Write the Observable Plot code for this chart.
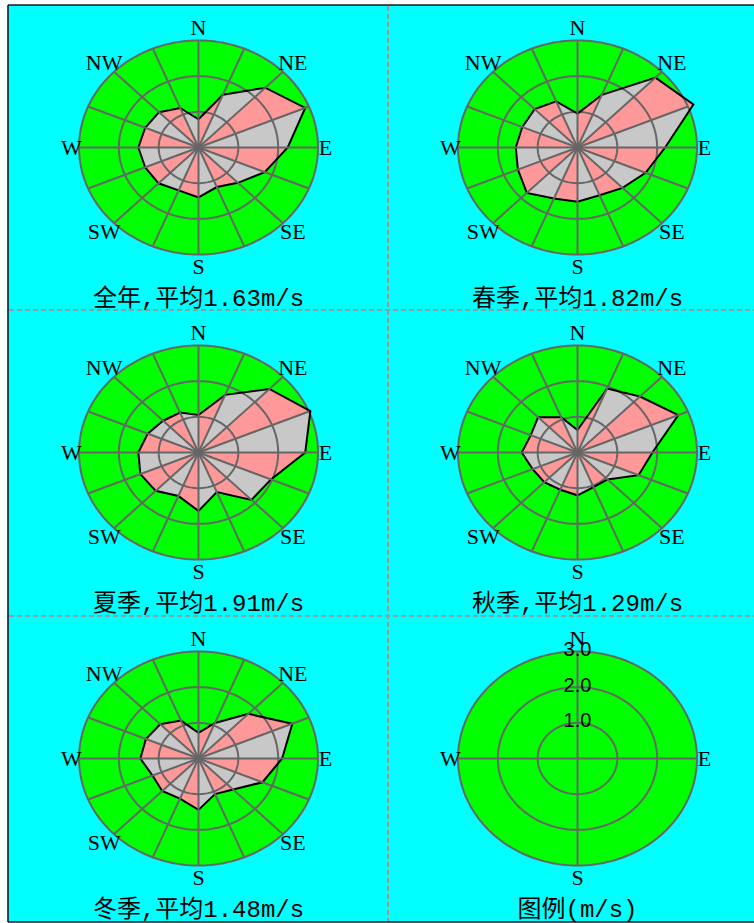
<!DOCTYPE html>
<html><head><meta charset="utf-8">
<script src="https://cdn.jsdelivr.net/npm/d3@7"></script>
<script src="https://cdn.jsdelivr.net/npm/@observablehq/plot@0.6"></script>
<style>
html,body{margin:0;padding:0;background:#fff;overflow:hidden;}
#fig{position:relative;width:754px;height:923px;overflow:hidden;}
#fig > svg{position:absolute;left:0;top:0;}
#fig > .panel{position:absolute;}
#fig > .panel svg{display:block;max-width:none;}
</style></head><body><div id="fig"></div>
<script>
// ---- data ----
const directions = ["N","NNE","NE","ENE","E","ESE","SE","SSE","S","SSW","SW","WSW","W","WNW","NW","NNW"];
const annual = [0.79,1.60,2.37,2.90,2.24,1.80,1.40,1.20,1.40,1.30,1.42,1.45,1.51,1.45,1.40,1.20];
const spring = [0.95,1.60,2.77,3.15,2.20,1.85,1.60,1.45,1.52,1.55,1.80,1.62,1.55,1.50,1.52,1.40];
const summer = [1.05,1.75,2.52,3.04,2.68,1.97,1.88,1.20,1.64,1.32,1.52,1.58,1.51,1.38,1.26,1.21];
const autumn = [0.63,1.94,2.22,2.74,1.88,1.66,1.07,1.05,1.20,1.13,1.18,1.22,1.40,1.27,1.40,1.07];
const winter = [0.72,1.08,1.77,2.55,2.10,1.74,1.23,1.08,1.44,1.22,1.29,1.25,1.46,1.43,1.36,1.15];
const seasonNames = ["全年","春季","夏季","秋季","冬季"];
const seasonMeans = [1.63,1.82,1.91,1.29,1.48];
const legendTitle = "图例(m/s)";
const compassLabels = ["N","NE","E","SE","S","SW","W","NW"];
const legendCompass = ["N","E","S","W"];
const ringValues = [1,2,3];
const ringLabels = ["1.0","2.0","3.0"];

// ---- layout ----
const PX = 39.83, PY = 35.667;   // pixels per m/s (horizontal, vertical)
const W = 380, H = 306, CX = 189, CY = 141;
const rad = i => i * Math.PI / 8;

function panel(values, caption, isLegend) {
  const ring = r => d3.range(0, 360, 2).map(a => ({r, x: r*Math.sin(a*Math.PI/180), y: r*Math.cos(a*Math.PI/180)}));
  const rings = ringValues.flatMap(ring);
  const spokeDirs = isLegend ? [0,4,8,12] : d3.range(16);
  const spokes = spokeDirs.map(i => ({x1:0, y1:0, x2:3*Math.sin(rad(i)), y2:3*Math.cos(rad(i))}));
  const labels = (isLegend ? legendCompass : compassLabels).map(name => {
    const i = directions.indexOf(name);
    const r = i % 8 === 0 ? 3.36 : i % 4 === 0 ? 3.19 : 3.35;
    return {name, x: r*Math.sin(rad(i)), y: r*Math.cos(rad(i))};
  });
  const marks = [Plot.line(ring(3), {x:"x", y:"y", fill:"#00ff00", stroke:"none", curve:"linear-closed"})];
  let pts = null;
  if (values) {
    pts = values.map((v,i) => ({i, x: v*Math.sin(rad(i)), y: v*Math.cos(rad(i))}));
    const tris = pts.filter(p => p.i % 2 === 0).flatMap(p => {
      const q = pts[(p.i+1) % 16];
      return [{k:p.i, x:0, y:0}, {k:p.i, x:p.x, y:p.y}, {k:p.i, x:q.x, y:q.y}];
    });
    marks.push(
      Plot.line(pts, {x:"x", y:"y", fill:"#c8c8c8", stroke:"none", curve:"linear-closed"}),
      Plot.line(tris, {x:"x", y:"y", z:"k", fill:"#ff9999", stroke:"#ff9999", strokeWidth:0.5, curve:"linear-closed"})
    );
  }
  marks.push(Plot.line(rings, {x:"x", y:"y", z:"r", stroke:"#666666", strokeWidth:2, curve:"linear-closed"}));
  if (pts) marks.push(Plot.line(pts, {x:"x", y:"y", stroke:"#000", strokeWidth:2, strokeLinejoin:"miter", strokeMiterlimit:4, curve:"linear-closed"}));
  marks.push(Plot.link(spokes, {x1:"x1", y1:"y1", x2:"x2", y2:"y2", stroke:"#666666", strokeWidth:2}));
  marks.push(Plot.text(labels, {x:"x", y:"y", text:"name", fontSize:22, fontFamily:"'Liberation Serif', serif", lineAnchor:"middle", fill:"#000"}));
  if (isLegend) {
    marks.push(Plot.text(ringValues.map((r,j) => ({x:0, y:r, t:ringLabels[j]})),
      {x:"x", y:"y", text:"t", fontSize:20, fontFamily:"'Liberation Sans', sans-serif", lineAnchor:"middle", dy:-2, fill:"#000"}));
  }
  marks.push(Plot.text([{x:0, y:-4.24, t:caption}], {x:"x", y:"y", text:"t", fontSize:24,
    fontFamily:"'Liberation Mono', 'Noto Sans CJK SC', monospace", lineAnchor:"middle", fill:"#000"}));
  return Plot.plot({
    width: W, height: H, margin: 0,
    x: {domain: [-CX/PX, (W-CX)/PX], axis: null},
    y: {domain: [-(H-CY)/PY, CY/PY], axis: null},
    style: {background: "none", overflow: "visible"},
    marks
  });
}

const fig = document.getElementById("fig");
// background, frame and dashed dividers
const bg = d3.select(fig).append("svg").attr("width", 754).attr("height", 923);
bg.append("rect").attr("x", 8).attr("y", 5).attr("width", 760).attr("height", 917).attr("fill", "#00ffff");
[[388,6,388,921],[9,310,754,310],[9,616,754,616]].forEach(([a,b,c,d]) =>
  bg.append("line").attr("x1",a).attr("y1",b).attr("x2",c).attr("y2",d)
    .attr("stroke","#999999").attr("stroke-width",2).attr("stroke-dasharray","5 3"));
[[8,5,760,5],[8,5,8,922],[8,922,760,922]].forEach(([a,b,c,d]) =>
  bg.append("line").attr("x1",a).attr("y1",b).attr("x2",c).attr("y2",d)
    .attr("stroke","#1a1a1a").attr("stroke-width",1.6));

const seasons = [annual, spring, summer, autumn, winter];
const centers = [[198,146.7],[577,146.7],[198,451.7],[577,451.7],[198,757.7],[577,757.7]];
centers.forEach(([cx, cy], k) => {
  const div = document.createElement("div");
  div.className = "panel";
  div.style.left = (cx - CX) + "px";
  div.style.top = (cy - CY) + "px";
  const isLegend = k === 5;
  const caption = isLegend ? legendTitle : `${seasonNames[k]},平均${seasonMeans[k].toFixed(2)}m/s`;
  div.appendChild(panel(isLegend ? null : seasons[k], caption, isLegend));
  fig.appendChild(div);
});
</script></body></html>
